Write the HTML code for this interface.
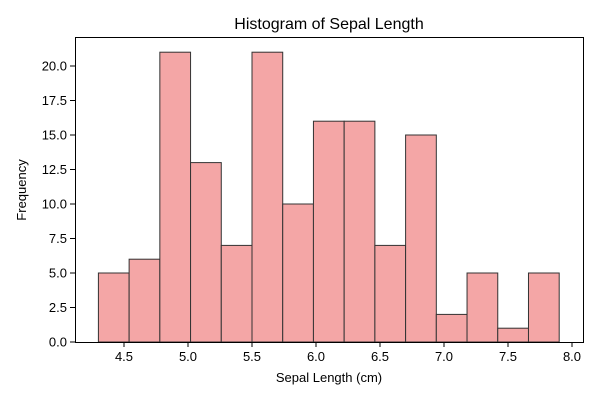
<!DOCTYPE html>
<html><head><meta charset="utf-8">
<style>
body{margin:0;background:#fff;}
svg{display:block;font-family:"Liberation Sans","DejaVu Sans",sans-serif;}
</style></head>
<body>
<svg id="chart" width="600" height="400" viewBox="0 0 600 400">
<text x="329" y="29" text-anchor="middle" font-size="16" fill="#000">Histogram of Sepal Length</text>
<g id="bars"></g>
<g id="xticks"></g>
<g id="yticks"></g>
<rect x="75.5" y="37.5" width="508" height="305" fill="none" stroke="#000" stroke-width="1"/>
<text x="329" y="382" text-anchor="middle" font-size="13">Sepal Length (cm)</text>
<text transform="translate(26,190) rotate(-90)" text-anchor="middle" font-size="13">Frequency</text>
</svg>
<script>
const binStart = 4.3;
const binEnd = 7.9;
const counts = [5,6,21,13,7,21,10,16,16,7,15,2,5,1,5];
const xTickLabels = ["4.5","5.0","5.5","6.0","6.5","7.0","7.5","8.0"];
const yTickLabels = ["0.0","2.5","5.0","7.5","10.0","12.5","15.0","17.5","20.0"];
const NS="http://www.w3.org/2000/svg";
function xs(v){return 124+(v-4.5)*128;}
function ys(v){return 342-v*13.8;}
const bw=(binEnd-binStart)/counts.length;
const bars=document.getElementById('bars');
counts.forEach((c,i)=>{
  const r=document.createElementNS(NS,'rect');
  const x0=xs(binStart+i*bw), x1=xs(binStart+(i+1)*bw);
  r.setAttribute('x',x0);r.setAttribute('width',x1-x0);
  r.setAttribute('y',ys(c));r.setAttribute('height',ys(0)-ys(c));
  r.setAttribute('fill','#f4a6a6');r.setAttribute('stroke','#333');r.setAttribute('stroke-width','1');
  
  
  bars.appendChild(r);
});
const xt=document.getElementById('xticks');
xTickLabels.forEach(l=>{
  const x=xs(parseFloat(l));
  const ln=document.createElementNS(NS,'line');
  ln.setAttribute('x1',x);ln.setAttribute('x2',x);ln.setAttribute('y1',342);ln.setAttribute('y2',347);ln.setAttribute('stroke','#000');
  
  
  xt.appendChild(ln);
  const t=document.createElementNS(NS,'text');
  t.setAttribute('x',x);t.setAttribute('y',361);t.setAttribute('text-anchor','middle');t.setAttribute('font-size','13');
  t.textContent=l;
  
  
  xt.appendChild(t);
});
const yt=document.getElementById('yticks');
yTickLabels.forEach(l=>{
  const y=ys(parseFloat(l));
  const ln=document.createElementNS(NS,'line');
  ln.setAttribute('x1',70);ln.setAttribute('x2',75);ln.setAttribute('y1',y);ln.setAttribute('y2',y);ln.setAttribute('stroke','#000');
  
  
  yt.appendChild(ln);
  const t=document.createElementNS(NS,'text');
  t.setAttribute('x',67);t.setAttribute('y',y+4.5);t.setAttribute('text-anchor','end');t.setAttribute('font-size','13');
  t.textContent=l;
  
  
  yt.appendChild(t);
});
</script>
</body></html>
